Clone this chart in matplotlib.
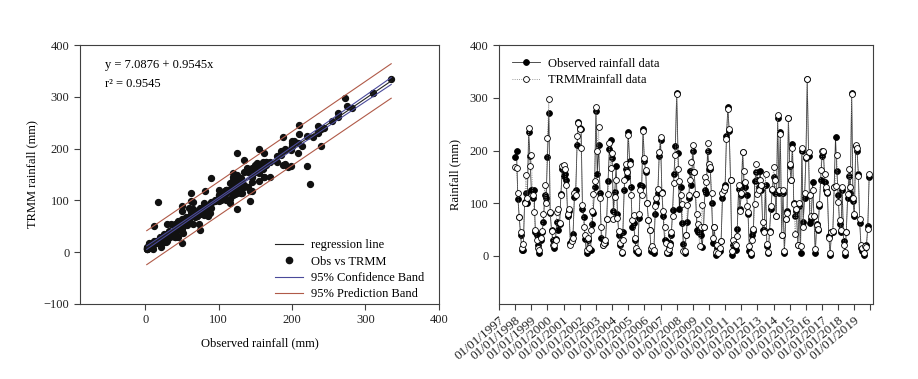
import numpy as np
import matplotlib
matplotlib.use('Agg')
from matplotlib import pyplot as plt
from matplotlib.lines import Line2D

# monthly rainfall (mm), Jan 1998 .. Dec 2019, one row per year
observed = [
    188, 199, 109, 74, 40, 11, 12, 103, 119, 100, 235, 190,
    125, 110, 125, 46, 40, 20, 5, 30, 46, 65, 115, 110,
    188, 272, 82, 49, 30, 15, 33, 65, 50, 60, 118, 165,
    152, 155, 145, 75, 85, 25, 30, 42, 112, 125, 210, 255,
    243, 240, 90, 73, 32, 5, 30, 12, 12, 60, 82, 130,
    275, 155, 210, 120, 35, 20, 28, 25, 70, 142, 203, 220,
    185, 85, 122, 170, 80, 40, 20, 5, 45, 125, 165, 150,
    235, 180, 130, 55, 62, 30, 10, 5, 72, 135, 132, 240,
    180, 160, 100, 68, 50, 10, 12, 5, 80, 100, 120, 190,
    220, 122, 75, 30, 28, 5, 5, 25, 40, 88, 155, 208,
    310, 195, 90, 130, 62, 22, 5, 40, 65, 110, 162, 135,
    200, 160, 118, 50, 45, 50, 40, 17, 55, 125, 120, 200,
    165, 165, 100, 25, 55, 2, 15, 10, 10, 28, 110, 125,
    135, 228, 282, 238, 145, 2, 20, 15, 12, 52, 128, 90,
    115, 198, 138, 130, 115, 80, 10, 2, 40, 48, 142, 160,
    145, 130, 162, 125, 50, 50, 135, 18, 5, 48, 90, 125,
    150, 120, 75, 262, 120, 235, 40, 120, 5, 70, 85, 262,
    170, 145, 213, 100, 75, 85, 20, 95, 5, 200, 65, 110,
    185, 335, 190, 62, 70, 140, 75, 5, 60, 50, 95, 145,
    190, 198, 140, 125, 120, 38, 2, 45, 45, 130, 225, 162,
    115, 60, 45, 125, 28, 2, 45, 110, 152, 120, 310, 105,
    75, 208, 200, 155, 62, 15, 10, 2, 15, 20, 57, 150,
]
trmm = [
    169, 166, 119, 74, 45, 15, 22, 100, 153, 110, 243, 170,
    192, 115, 84, 50, 30, 15, 12, 35, 47, 80, 134, 100,
    223, 298, 84, 48, 21, 20, 30, 84, 90, 62, 115, 170,
    172, 165, 135, 80, 90, 20, 28, 35, 120, 115, 228, 253,
    240, 205, 97, 55, 40, 12, 35, 15, 50, 85, 118, 143,
    283, 200, 245, 110, 55, 20, 25, 30, 70, 118, 215, 166,
    195, 70, 112, 145, 72, 48, 25, 8, 30, 145, 175, 160,
    230, 175, 115, 68, 78, 35, 15, 10, 80, 125, 115, 238,
    185, 163, 100, 68, 50, 15, 18, 12, 95, 110, 128, 198,
    225, 120, 85, 55, 25, 8, 14, 20, 45, 75, 138, 192,
    308, 165, 143, 115, 98, 10, 10, 40, 97, 115, 145, 178,
    210, 160, 118, 80, 60, 18, 55, 97, 55, 150, 140, 215,
    175, 168, 120, 35, 55, 8, 20, 6, 15, 28, 120, 125,
    130, 222, 278, 240, 145, 10, 30, 22, 20, 38, 135, 85,
    120, 198, 162, 140, 95, 84, 18, 6, 30, 52, 98, 175,
    118, 125, 145, 135, 65, 45, 155, 22, 8, 45, 95, 128,
    168, 145, 75, 268, 125, 232, 40, 125, 10, 70, 82, 262,
    175, 145, 205, 98, 42, 90, 20, 100, 18, 205, 55, 120,
    188, 335, 197, 115, 75, 125, 75, 14, 58, 52, 98, 163,
    200, 200, 155, 130, 122, 35, 6, 45, 48, 130, 132, 192,
    102, 68, 50, 130, 20, 8, 45, 118, 165, 130, 308, 110,
    80, 210, 205, 152, 70, 20, 15, 6, 18, 17, 52, 155,
]
year_labels = ['01/01/%d' % y for y in range(1997, 2020)]

plt.rcParams.update({'font.family': 'Liberation Serif', 'font.size': 9})

fig = plt.figure(figsize=(9.18, 3.79), dpi=100)
ax1 = fig.add_axes([0.0871, 0.198, 0.391, 0.683])
ax2 = fig.add_axes([0.5436, 0.198, 0.407, 0.683])

spine_col = '#404040'
for ax in (ax1, ax2):
    for sp in ax.spines.values():
        sp.set_color(spine_col)
        sp.set_linewidth(0.8)
    ax.tick_params(colors=spine_col, length=4, width=0.8, labelcolor='#222222')

# ---- left: scatter + regression
x = np.array(observed, dtype=float)
y = np.array(trmm, dtype=float)
n = len(x)
b1, b0 = np.polyfit(x, y, 1)
resid = y - (b0 + b1 * x)
s = np.sqrt(np.sum(resid ** 2) / (n - 2))
xm = x.mean()
sxx = np.sum((x - xm) ** 2)
t = 1.969
xs = np.linspace(x.min(), x.max(), 100)
fit = b0 + b1 * xs
se = s * np.sqrt(1.0 / n + (xs - xm) ** 2 / sxx)
ci = t * se
pi = t * np.sqrt(s ** 2 + se ** 2)

ax1.scatter(x, y, s=18, color='#111111', zorder=2)
ci_col = '#4a4a9a'
pi_col = '#b05a48'
ax1.plot(xs, fit, color='#222222', lw=0.8, zorder=3)
ax1.plot(xs, fit + ci, color=ci_col, lw=0.8, zorder=3)
ax1.plot(xs, fit - ci, color=ci_col, lw=0.8, zorder=3)
ax1.plot(xs, fit + pi, color=pi_col, lw=0.8, zorder=3)
ax1.plot(xs, fit - pi, color=pi_col, lw=0.8, zorder=3)

ax1.set_xlim(-89, 400)
ax1.set_ylim(-100, 400)
ax1.set_xticks([0, 100, 200, 300, 400])
ax1.set_yticks([-100, 0, 100, 200, 300, 400])
ax1.set_xlabel('Observed rainfall (mm)', labelpad=8)
ax1.set_ylabel('TRMM rainfall (mm)', labelpad=4)
ax1.text(-55, 374, 'y = 7.0876 + 0.9545x', va='top')
ax1.text(-55, 336, 'r\u00b2 = 0.9545', va='top')

handles = [
    Line2D([], [], color='#222222', lw=0.8),
    Line2D([], [], color='#111111', ls='none', marker='o', markersize=4.5),
    Line2D([], [], color=ci_col, lw=0.8),
    Line2D([], [], color=pi_col, lw=0.8),
]
ax1.legend(handles, ['regression line', 'Obs vs TRMM', '95% Confidence Band', '95% Prediction Band'],
           loc='lower right', bbox_to_anchor=(0.99, -0.03), frameon=False, handlelength=2.3,
           labelspacing=0.35, handletextpad=0.6)

# ---- right: time series
months = np.arange(len(observed))
ax2.plot(months, observed, color='#333333', lw=0.6, marker='o', markersize=4.2,
         markerfacecolor='black', markeredgecolor='black', markeredgewidth=0.6,
         label='Observed rainfall data', zorder=2)
ax2.plot(months, trmm, color='#777777', lw=0.6, ls=':', marker='o', markersize=4.2,
         markerfacecolor='white', markeredgecolor='black', markeredgewidth=0.6,
         label='TRMMrainfall data', zorder=3)

ticks = np.arange(-12, 265, 12)
ax2.set_xticks(ticks)
ax2.set_xticklabels(year_labels + [''], rotation=40, ha='right', rotation_mode='anchor',
                    fontsize=9.5)
ax2.set_xlim(-12, 265.6)
ax2.set_ylim(-91, 400)
ax2.set_yticks([0, 100, 200, 300, 400])
ax2.set_ylabel('Rainfall (mm)', labelpad=6)
ax2.legend(loc='upper left', frameon=False, handlelength=2.3, borderaxespad=0.6,
           labelspacing=0.35, handletextpad=0.6)

fig.savefig('out.png', dpi=100, facecolor='white')
